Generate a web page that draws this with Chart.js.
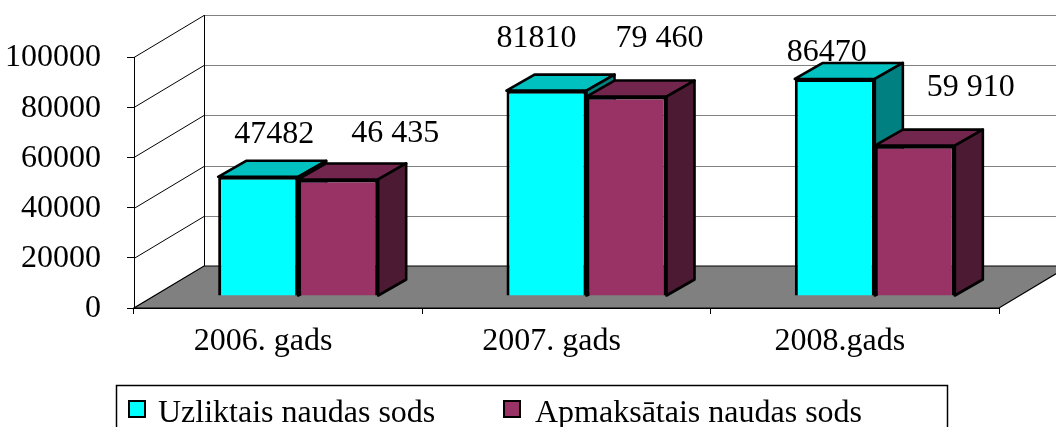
<!DOCTYPE html>
<html>
<head>
<meta charset="utf-8">
<script src="https://cdn.jsdelivr.net/npm/chart.js@4.4.0/dist/chart.umd.min.js"></script>
<style>
    html, body { margin: 0; padding: 0; background: #fff; }
    #wrap { width: 1056px; height: 427px; }
</style>
</head>
<body>
<div id="wrap"><canvas id="fineChart" width="1056" height="427"></canvas></div>
<script>
const years = ['2006. gads', '2007. gads', '2008.gads'];
const imposed = [47482, 81810, 86470];
const paid = [46435, 79460, 59910];
const seriesNames = ['Uzliktais naudas sods', 'Apmaksātais naudas sods'];
const yTicks = [0, 20000, 40000, 60000, 80000, 100000];

const FONT = "'Liberation Serif', 'Times New Roman', serif";
// 3D look: back wall offset, bars' front plane and bar depth
const WALL = { x: 70, y: -42 };
const SHIFT = { x: 20, y: -12 };
const DEPTH = { x: 28, y: -16 };
const faceColors = [
    { top: '#00C0C0', side: '#008080' },
    { top: '#73264D', side: '#4D1A33' }
];
// hand placed value labels, offset from the top centre of each bar
const labelNudge = [
    [[16, -42], [-10, -52], [-8, -26]],
    [[57, -46], [33, -58], [56, -58]]
];
const formatters = [
    v => String(v),
    v => String(v).replace(/\B(?=(\d{3})+(?!\d))/g, ' ')
];

function poly(ctx, pts, fill) {
    ctx.beginPath();
    ctx.moveTo(pts[0][0], pts[0][1]);
    for (let i = 1; i < pts.length; i++) ctx.lineTo(pts[i][0], pts[i][1]);
    ctx.closePath();
    ctx.fillStyle = fill;
    ctx.fill();
    ctx.stroke();
}

const depthPlugin = {
    id: 'depth3d',
    beforeDraw(chart) {
        const { ctx, chartArea: a, scales: { y } } = chart;
        const W = chart.width;
        ctx.save();
        ctx.fillStyle = '#fff';
        ctx.fillRect(0, 0, W, chart.height);
        ctx.lineWidth = 1;
        yTicks.forEach(v => {
            const py = Math.round(y.getPixelForValue(v)) + 0.5;
            ctx.strokeStyle = '#808080';
            ctx.beginPath();
            ctx.moveTo(a.left + WALL.x, py + WALL.y);
            ctx.lineTo(W, py + WALL.y);
            ctx.stroke();
            ctx.strokeStyle = '#000';
            ctx.beginPath();
            ctx.moveTo(a.left, py);
            ctx.lineTo(a.left + WALL.x, py + WALL.y);
            ctx.stroke();
        });
        ctx.strokeStyle = '#000';
        ctx.beginPath();
        ctx.moveTo(a.left + WALL.x + 0.5, a.top + WALL.y);
        ctx.lineTo(a.left + WALL.x + 0.5, a.bottom + WALL.y);
        ctx.stroke();
        // floor
        ctx.lineWidth = 1.2;
        poly(ctx, [
            [a.left, a.bottom],
            [a.right, a.bottom],
            [a.right + WALL.x, a.bottom + WALL.y],
            [a.left + WALL.x, a.bottom + WALL.y]
        ], '#808080');
        ctx.restore();
    },
    beforeDatasetsDraw(chart) {
        const { ctx } = chart;
        const metas = [chart.getDatasetMeta(0), chart.getDatasetMeta(1)];
        ctx.save();
        ctx.translate(SHIFT.x, SHIFT.y);
        ctx.lineJoin = 'round';
        for (let i = 0; i < years.length; i++) {
            metas.forEach((meta, d) => {
                const el = meta.data[i];
                el.draw(ctx);
                const { x, y, base, width } = el.getProps(['x', 'y', 'base', 'width'], true);
                const l = x - width / 2, r = x + width / 2;
                ctx.strokeStyle = '#000';
                ctx.lineWidth = 2.6;
                poly(ctx, [[l, y], [l + DEPTH.x, y + DEPTH.y], [r + DEPTH.x, y + DEPTH.y], [r, y]], faceColors[d].top);
                poly(ctx, [[r, y], [r + DEPTH.x, y + DEPTH.y], [r + DEPTH.x, base + DEPTH.y], [r, base]], faceColors[d].side);
            });
        }
        ctx.fillStyle = '#000';
        ctx.font = '32px ' + FONT;
        ctx.textAlign = 'center';
        ctx.textBaseline = 'middle';
        metas.forEach((meta, d) => {
            meta.data.forEach((el, i) => {
                const val = chart.data.datasets[d].data[i];
                const [nx, ny] = labelNudge[d][i];
                ctx.fillText(formatters[d](val), el.x + nx, el.y + ny);
            });
        });
        ctx.restore();
        return false;
    },
    afterDraw(chart) {
        const { ctx } = chart;
        ctx.save();
        ctx.strokeStyle = '#000';
        ctx.lineWidth = 1.5;
        ctx.strokeRect(116.5, 385.5, 831, 60);
        ctx.font = '32px ' + FONT;
        ctx.textAlign = 'left';
        ctx.textBaseline = 'alphabetic';
        const boxX = [129, 504];
        const textX = [158, 535];
        chart.data.datasets.forEach((ds, d) => {
            ctx.fillStyle = ds.backgroundColor;
            ctx.fillRect(boxX[d], 401, 16, 16);
            ctx.lineWidth = 2;
            ctx.strokeRect(boxX[d], 401, 16, 16);
            ctx.fillStyle = '#000';
            ctx.fillText(seriesNames[d], textX[d], 422);
        });
        ctx.restore();
    }
};

const ctx = document.getElementById('fineChart').getContext('2d');
new Chart(ctx, {
    type: 'bar',
    data: {
        labels: years,
        datasets: [{
            label: seriesNames[0],
            data: imposed,
            backgroundColor: '#00FFFF',
            borderColor: '#000',
            borderWidth: 3
        }, {
            label: seriesNames[1],
            data: paid,
            backgroundColor: '#993366',
            borderColor: '#000',
            borderWidth: 3
        }]
    },
    options: {
        responsive: false,
        animation: false,
        devicePixelRatio: 1,
        categoryPercentage: 0.555,
        barPercentage: 1,
        layout: {
            padding: { top: 57, right: 57, bottom: 69, left: 0 }
        },
        scales: {
            x: {
                grid: { offset: true, drawOnChartArea: false, drawTicks: true, tickLength: 6, color: '#000' },
                border: { display: true, color: '#000', width: 1 },
                ticks: {
                    color: '#000',
                    font: { family: FONT, size: 32 },
                    padding: 8,
                    labelOffset: -15,
                    maxRotation: 0
                },
                afterFit(scale) { scale.height = 50; }
            },
            y: {
                min: 0,
                max: 100000,
                grid: { drawOnChartArea: false, drawTicks: true, tickLength: 7, color: '#000' },
                border: { display: true, color: '#000', width: 1 },
                ticks: {
                    stepSize: 20000,
                    color: '#000',
                    font: { family: FONT, size: 32 },
                    padding: 26,
                    labelOffset: 1,
                    callback: value => String(value)
                },
                afterFit(scale) { scale.width = 134; }
            }
        },
        plugins: {
            legend: { display: false },
            tooltip: { enabled: false }
        }
    },
    plugins: [depthPlugin]
});
</script>
</body>
</html>
